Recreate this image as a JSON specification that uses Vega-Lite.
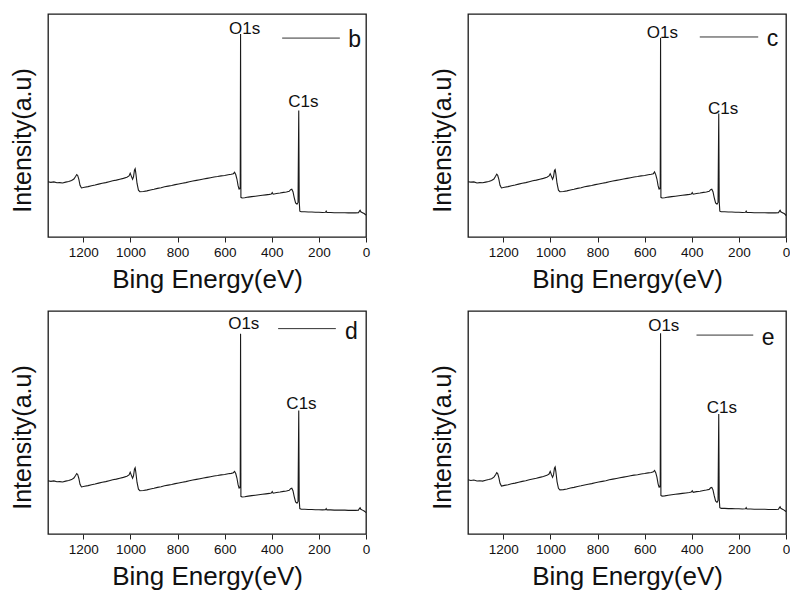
{
"$schema":"https://vega.github.io/schema/vega-lite/v6.json",
"background":"white",
"padding":{"left":9,"top":13,"right":0,"bottom":0},
"config":{"font":"Liberation Sans","view":{"stroke":"#1a1a1a","strokeWidth":1.3},
"axis":{"grid":false,"domain":false,"labelFont":"Liberation Sans","titleFont":"Liberation Sans","titleFontWeight":"normal","labelColor":"#111","titleColor":"#111","tickColor":"#222"}},
"datasets":{
"b":[{"e":1350,"v":24.8},{"e":1338,"v":24.5},{"e":1325,"v":24.7},{"e":1312,"v":24.3},{"e":1300,"v":24.4},{"e":1288,"v":24.2},{"e":1275,"v":24.6},{"e":1262,"v":24.9},{"e":1250,"v":25.3},{"e":1240,"v":26.0},{"e":1233,"v":27.1},{"e":1228,"v":28.0},{"e":1224,"v":27.6},{"e":1219,"v":25.8},{"e":1214,"v":23.2},{"e":1208,"v":22.0},{"e":1195,"v":22.3},{"e":1180,"v":22.6},{"e":1165,"v":23.0},{"e":1150,"v":23.3},{"e":1135,"v":23.7},{"e":1120,"v":24.1},{"e":1105,"v":24.4},{"e":1090,"v":24.8},{"e":1075,"v":25.2},{"e":1060,"v":25.5},{"e":1045,"v":25.9},{"e":1030,"v":26.3},{"e":1015,"v":26.8},{"e":1006,"v":27.4},{"e":1001,"v":28.6},{"e":996,"v":27.2},{"e":991,"v":25.9},{"e":987,"v":27.0},{"e":983,"v":30.0},{"e":980,"v":30.6},{"e":977,"v":28.5},{"e":972,"v":24.0},{"e":966,"v":21.0},{"e":960,"v":20.3},{"e":945,"v":20.4},{"e":930,"v":20.7},{"e":915,"v":21.1},{"e":900,"v":21.4},{"e":885,"v":21.8},{"e":870,"v":22.1},{"e":855,"v":22.5},{"e":840,"v":22.8},{"e":825,"v":23.1},{"e":810,"v":23.5},{"e":795,"v":23.8},{"e":780,"v":24.1},{"e":765,"v":24.4},{"e":750,"v":24.8},{"e":735,"v":25.1},{"e":720,"v":25.4},{"e":705,"v":25.7},{"e":690,"v":26.0},{"e":675,"v":26.3},{"e":660,"v":26.6},{"e":645,"v":26.9},{"e":630,"v":27.1},{"e":615,"v":27.4},{"e":600,"v":27.6},{"e":585,"v":27.9},{"e":572,"v":28.1},{"e":563,"v":28.4},{"e":558,"v":29.0},{"e":553,"v":28.0},{"e":548,"v":26.0},{"e":543,"v":23.0},{"e":539,"v":21.5},{"e":536,"v":21.6},{"e":534,"v":22.5},{"e":532.5,"v":91.0},{"e":531,"v":17.8},{"e":526,"v":17.5},{"e":515,"v":17.6},{"e":500,"v":17.9},{"e":485,"v":18.1},{"e":470,"v":18.3},{"e":455,"v":18.5},{"e":440,"v":18.7},{"e":425,"v":18.9},{"e":410,"v":19.1},{"e":402,"v":19.3},{"e":398,"v":19.9},{"e":394,"v":19.2},{"e":380,"v":19.5},{"e":365,"v":19.7},{"e":350,"v":20.0},{"e":338,"v":20.2},{"e":326,"v":20.5},{"e":320,"v":21.2},{"e":315,"v":21.4},{"e":310,"v":20.3},{"e":305,"v":17.8},{"e":299,"v":15.3},{"e":293,"v":14.7},{"e":288.5,"v":15.5},{"e":285.5,"v":56.7},{"e":283.5,"v":16.0},{"e":281,"v":11.6},{"e":275,"v":11.3},{"e":260,"v":11.3},{"e":245,"v":11.2},{"e":230,"v":11.2},{"e":215,"v":11.1},{"e":200,"v":11.1},{"e":185,"v":11.0},{"e":172,"v":11.1},{"e":169,"v":11.6},{"e":166,"v":11.0},{"e":150,"v":11.0},{"e":135,"v":10.9},{"e":120,"v":10.9},{"e":105,"v":10.9},{"e":90,"v":10.9},{"e":75,"v":10.8},{"e":60,"v":10.8},{"e":45,"v":10.8},{"e":32,"v":10.9},{"e":28,"v":11.6},{"e":25,"v":12.0},{"e":22,"v":11.3},{"e":15,"v":10.9},{"e":8,"v":10.5},{"e":3,"v":10.1},{"e":0,"v":9.8}],
"c":[{"e":1350,"v":24.8},{"e":1338,"v":24.6},{"e":1325,"v":24.7},{"e":1312,"v":24.2},{"e":1300,"v":24.4},{"e":1288,"v":24.3},{"e":1275,"v":24.6},{"e":1262,"v":24.9},{"e":1250,"v":25.3},{"e":1240,"v":26.0},{"e":1233,"v":27.2},{"e":1228,"v":28.2},{"e":1224,"v":27.7},{"e":1219,"v":25.8},{"e":1214,"v":23.2},{"e":1208,"v":22.0},{"e":1195,"v":22.3},{"e":1180,"v":22.6},{"e":1165,"v":23.0},{"e":1150,"v":23.3},{"e":1135,"v":23.7},{"e":1120,"v":24.1},{"e":1105,"v":24.4},{"e":1090,"v":24.8},{"e":1075,"v":25.2},{"e":1060,"v":25.5},{"e":1045,"v":25.9},{"e":1030,"v":26.3},{"e":1015,"v":26.8},{"e":1006,"v":27.4},{"e":1001,"v":28.4},{"e":996,"v":27.2},{"e":991,"v":25.9},{"e":987,"v":27.0},{"e":983,"v":29.8},{"e":980,"v":30.2},{"e":977,"v":28.3},{"e":972,"v":24.0},{"e":966,"v":21.0},{"e":960,"v":20.3},{"e":945,"v":20.4},{"e":930,"v":20.7},{"e":915,"v":21.1},{"e":900,"v":21.4},{"e":885,"v":21.8},{"e":870,"v":22.1},{"e":855,"v":22.5},{"e":840,"v":22.8},{"e":825,"v":23.1},{"e":810,"v":23.5},{"e":795,"v":23.8},{"e":780,"v":24.1},{"e":765,"v":24.4},{"e":750,"v":24.8},{"e":735,"v":25.1},{"e":720,"v":25.4},{"e":705,"v":25.7},{"e":690,"v":26.0},{"e":675,"v":26.3},{"e":660,"v":26.6},{"e":645,"v":26.9},{"e":630,"v":27.1},{"e":615,"v":27.4},{"e":600,"v":27.6},{"e":585,"v":27.9},{"e":572,"v":28.1},{"e":563,"v":28.4},{"e":558,"v":29.2},{"e":553,"v":28.0},{"e":548,"v":26.0},{"e":543,"v":23.0},{"e":539,"v":21.5},{"e":536,"v":21.6},{"e":534,"v":22.5},{"e":532.5,"v":89.4},{"e":531,"v":17.8},{"e":526,"v":17.5},{"e":515,"v":17.6},{"e":500,"v":17.9},{"e":485,"v":18.1},{"e":470,"v":18.3},{"e":455,"v":18.5},{"e":440,"v":18.7},{"e":425,"v":18.9},{"e":410,"v":19.1},{"e":402,"v":19.3},{"e":398,"v":19.9},{"e":394,"v":19.2},{"e":380,"v":19.5},{"e":365,"v":19.7},{"e":350,"v":20.0},{"e":338,"v":20.2},{"e":326,"v":20.5},{"e":320,"v":21.2},{"e":315,"v":21.4},{"e":310,"v":20.3},{"e":305,"v":17.8},{"e":299,"v":15.3},{"e":293,"v":14.7},{"e":288.5,"v":15.5},{"e":285.5,"v":55.4},{"e":283.5,"v":16.0},{"e":281,"v":11.6},{"e":275,"v":11.3},{"e":260,"v":11.3},{"e":245,"v":11.2},{"e":230,"v":11.2},{"e":215,"v":11.1},{"e":200,"v":11.1},{"e":185,"v":11.0},{"e":172,"v":11.1},{"e":169,"v":11.6},{"e":166,"v":11.0},{"e":150,"v":11.0},{"e":135,"v":10.9},{"e":120,"v":10.9},{"e":105,"v":10.9},{"e":90,"v":10.9},{"e":75,"v":10.8},{"e":60,"v":10.8},{"e":45,"v":10.8},{"e":32,"v":10.9},{"e":28,"v":11.6},{"e":25,"v":12.0},{"e":22,"v":11.3},{"e":15,"v":10.9},{"e":8,"v":10.5},{"e":3,"v":10.1},{"e":0,"v":9.6}],
"d":[{"e":1350,"v":23.9},{"e":1338,"v":23.6},{"e":1325,"v":23.8},{"e":1312,"v":23.4},{"e":1300,"v":23.5},{"e":1288,"v":23.3},{"e":1275,"v":23.7},{"e":1262,"v":24.0},{"e":1250,"v":24.4},{"e":1240,"v":25.1},{"e":1233,"v":26.2},{"e":1228,"v":27.1},{"e":1224,"v":26.7},{"e":1219,"v":24.9},{"e":1214,"v":22.3},{"e":1208,"v":21.1},{"e":1195,"v":21.4},{"e":1180,"v":21.7},{"e":1165,"v":22.1},{"e":1150,"v":22.4},{"e":1135,"v":22.8},{"e":1120,"v":23.2},{"e":1105,"v":23.5},{"e":1090,"v":23.9},{"e":1075,"v":24.3},{"e":1060,"v":24.6},{"e":1045,"v":25.0},{"e":1030,"v":25.4},{"e":1015,"v":25.9},{"e":1006,"v":26.5},{"e":1001,"v":27.7},{"e":996,"v":26.3},{"e":991,"v":25.0},{"e":987,"v":26.1},{"e":983,"v":29.1},{"e":980,"v":29.7},{"e":977,"v":27.6},{"e":972,"v":23.1},{"e":966,"v":20.1},{"e":960,"v":19.4},{"e":945,"v":19.5},{"e":930,"v":19.8},{"e":915,"v":20.2},{"e":900,"v":20.5},{"e":885,"v":20.9},{"e":870,"v":21.2},{"e":855,"v":21.6},{"e":840,"v":21.9},{"e":825,"v":22.2},{"e":810,"v":22.6},{"e":795,"v":22.9},{"e":780,"v":23.2},{"e":765,"v":23.5},{"e":750,"v":23.9},{"e":735,"v":24.2},{"e":720,"v":24.5},{"e":705,"v":24.8},{"e":690,"v":25.1},{"e":675,"v":25.4},{"e":660,"v":25.7},{"e":645,"v":26.0},{"e":630,"v":26.2},{"e":615,"v":26.5},{"e":600,"v":26.7},{"e":585,"v":27.0},{"e":572,"v":27.2},{"e":563,"v":27.5},{"e":558,"v":28.1},{"e":553,"v":27.1},{"e":548,"v":25.1},{"e":543,"v":22.1},{"e":539,"v":20.6},{"e":536,"v":20.7},{"e":534,"v":21.6},{"e":532.5,"v":89.8},{"e":531,"v":16.9},{"e":526,"v":16.6},{"e":515,"v":16.7},{"e":500,"v":17.0},{"e":485,"v":17.2},{"e":470,"v":17.4},{"e":455,"v":17.6},{"e":440,"v":17.8},{"e":425,"v":18.0},{"e":410,"v":18.2},{"e":402,"v":18.4},{"e":398,"v":19.0},{"e":394,"v":18.3},{"e":380,"v":18.6},{"e":365,"v":18.8},{"e":350,"v":19.1},{"e":338,"v":19.3},{"e":326,"v":19.6},{"e":320,"v":20.3},{"e":315,"v":20.5},{"e":310,"v":19.4},{"e":305,"v":16.9},{"e":299,"v":14.4},{"e":293,"v":13.8},{"e":288.5,"v":14.6},{"e":285.5,"v":55.4},{"e":283.5,"v":15.0},{"e":281,"v":11.4},{"e":275,"v":11.1},{"e":260,"v":11.1},{"e":245,"v":11.0},{"e":230,"v":11.0},{"e":215,"v":10.9},{"e":200,"v":10.9},{"e":185,"v":10.8},{"e":172,"v":10.9},{"e":169,"v":11.4},{"e":166,"v":10.8},{"e":150,"v":10.8},{"e":135,"v":10.7},{"e":120,"v":10.7},{"e":105,"v":10.7},{"e":90,"v":10.7},{"e":75,"v":10.6},{"e":60,"v":10.6},{"e":45,"v":10.6},{"e":32,"v":10.7},{"e":28,"v":11.4},{"e":25,"v":11.8},{"e":22,"v":11.1},{"e":15,"v":10.7},{"e":8,"v":10.3},{"e":3,"v":9.9},{"e":0,"v":9.6}],
"e":[{"e":1350,"v":24.3},{"e":1338,"v":24.0},{"e":1325,"v":24.2},{"e":1312,"v":23.8},{"e":1300,"v":23.9},{"e":1288,"v":23.7},{"e":1275,"v":24.1},{"e":1262,"v":24.4},{"e":1250,"v":24.8},{"e":1240,"v":25.5},{"e":1233,"v":26.6},{"e":1228,"v":27.5},{"e":1224,"v":27.1},{"e":1219,"v":25.3},{"e":1214,"v":22.7},{"e":1208,"v":21.5},{"e":1195,"v":21.8},{"e":1180,"v":22.1},{"e":1165,"v":22.5},{"e":1150,"v":22.8},{"e":1135,"v":23.2},{"e":1120,"v":23.6},{"e":1105,"v":23.9},{"e":1090,"v":24.3},{"e":1075,"v":24.7},{"e":1060,"v":25.0},{"e":1045,"v":25.4},{"e":1030,"v":25.8},{"e":1015,"v":26.3},{"e":1006,"v":26.9},{"e":1001,"v":28.1},{"e":996,"v":26.7},{"e":991,"v":25.4},{"e":987,"v":26.5},{"e":983,"v":29.5},{"e":980,"v":30.1},{"e":977,"v":28.0},{"e":972,"v":23.5},{"e":966,"v":20.5},{"e":960,"v":19.8},{"e":945,"v":19.9},{"e":930,"v":20.2},{"e":915,"v":20.6},{"e":900,"v":20.9},{"e":885,"v":21.3},{"e":870,"v":21.6},{"e":855,"v":22.0},{"e":840,"v":22.3},{"e":825,"v":22.6},{"e":810,"v":23.0},{"e":795,"v":23.3},{"e":780,"v":23.6},{"e":765,"v":23.9},{"e":750,"v":24.3},{"e":735,"v":24.6},{"e":720,"v":24.9},{"e":705,"v":25.2},{"e":690,"v":25.5},{"e":675,"v":25.8},{"e":660,"v":26.1},{"e":645,"v":26.4},{"e":630,"v":26.6},{"e":615,"v":26.9},{"e":600,"v":27.1},{"e":585,"v":27.4},{"e":572,"v":27.6},{"e":563,"v":27.9},{"e":558,"v":28.5},{"e":553,"v":27.5},{"e":548,"v":25.5},{"e":543,"v":22.5},{"e":539,"v":21.0},{"e":536,"v":21.1},{"e":534,"v":22.0},{"e":532.5,"v":90.0},{"e":531,"v":17.3},{"e":526,"v":17.0},{"e":515,"v":17.1},{"e":500,"v":17.4},{"e":485,"v":17.6},{"e":470,"v":17.8},{"e":455,"v":18.0},{"e":440,"v":18.2},{"e":425,"v":18.4},{"e":410,"v":18.6},{"e":402,"v":18.8},{"e":398,"v":19.4},{"e":394,"v":18.7},{"e":380,"v":19.0},{"e":365,"v":19.2},{"e":350,"v":19.5},{"e":338,"v":19.7},{"e":326,"v":20.0},{"e":320,"v":20.7},{"e":315,"v":20.9},{"e":310,"v":19.8},{"e":305,"v":17.3},{"e":299,"v":14.8},{"e":293,"v":14.2},{"e":288.5,"v":15.0},{"e":285.5,"v":53.8},{"e":283.5,"v":16.0},{"e":281,"v":11.8},{"e":275,"v":11.5},{"e":260,"v":11.5},{"e":245,"v":11.4},{"e":230,"v":11.4},{"e":215,"v":11.3},{"e":200,"v":11.3},{"e":185,"v":11.2},{"e":172,"v":11.3},{"e":169,"v":11.8},{"e":166,"v":11.2},{"e":150,"v":11.2},{"e":135,"v":11.1},{"e":120,"v":11.1},{"e":105,"v":11.1},{"e":90,"v":11.1},{"e":75,"v":11.0},{"e":60,"v":11.0},{"e":45,"v":11.0},{"e":32,"v":11.1},{"e":28,"v":11.8},{"e":25,"v":12.2},{"e":22,"v":11.5},{"e":15,"v":11.1},{"e":8,"v":10.7},{"e":3,"v":10.3},{"e":0,"v":10.0}]
},
"columns":2,
"spacing":{"row":16,"column":58},
"concat":[
{"width":318,"height":223,"layer":[
 {"data":{"name":"b"},"mark":{"type":"line","color":"#1a1a1a","strokeWidth":1.1},
  "encoding":{"x":{"field":"e","type":"quantitative","scale":{"domain":[0,1350],"reverse":true,"nice":false,"zero":false},
   "axis":{"title":"Bing Energy(eV)","titleFontSize":26,"titlePadding":8,"labelFontSize":13.5,"labelPadding":3,"format":"d","labelFlush":false,"labelOverlap":false,"values":[0,100,200,300,400,500,600,700,800,900,1000,1100,1200,1300],"labelExpr":"datum.value % 200 === 0 ? datum.label : ''","tickSize":{"condition":{"test":"datum.value % 200 === 0","value":5},"value":3}}},
   "y":{"field":"v","type":"quantitative","scale":{"domain":[0,100],"nice":false},"axis":{"title":"Intensity(a.u)","titleFontSize":25,"titlePadding":13,"labels":false,"ticks":false,"titleY":126}}}},
 {"data":{"values":[{"e":515,"v":91.1,"t":"O1s"},{"e":266,"v":58.5,"t":"C1s"}]},"mark":{"type":"text","fontSize":17,"baseline":"alphabetic","align":"center","color":"#111"},
  "encoding":{"x":{"field":"e","type":"quantitative"},"y":{"field":"v","type":"quantitative"},"text":{"field":"t"}}},
 {"data":{"values":[{"e":356,"e2":111,"v":89.2}]},"mark":{"type":"rule","color":"#333","strokeWidth":1},
  "encoding":{"x":{"field":"e","type":"quantitative"},"x2":{"field":"e2"},"y":{"field":"v","type":"quantitative"}}},
 {"data":{"values":[{"e":75,"v":85.3,"t":"b"}]},"mark":{"type":"text","fontSize":23,"baseline":"alphabetic","align":"left","color":"#111"},
  "encoding":{"x":{"field":"e","type":"quantitative"},"y":{"field":"v","type":"quantitative"},"text":{"field":"t"}}}
]},
{"width":318,"height":223,"layer":[
 {"data":{"name":"c"},"mark":{"type":"line","color":"#1a1a1a","strokeWidth":1.1},
  "encoding":{"x":{"field":"e","type":"quantitative","scale":{"domain":[0,1350],"reverse":true,"nice":false,"zero":false},
   "axis":{"title":"Bing Energy(eV)","titleFontSize":26,"titlePadding":8,"labelFontSize":13.5,"labelPadding":3,"format":"d","labelFlush":false,"labelOverlap":false,"values":[0,100,200,300,400,500,600,700,800,900,1000,1100,1200,1300],"labelExpr":"datum.value % 200 === 0 ? datum.label : ''","tickSize":{"condition":{"test":"datum.value % 200 === 0","value":5},"value":3}}},
   "y":{"field":"v","type":"quantitative","scale":{"domain":[0,100],"nice":false},"axis":{"title":"Intensity(a.u)","titleFontSize":25,"titlePadding":13,"labels":false,"ticks":false,"titleY":126}}}},
 {"data":{"values":[{"e":525,"v":89.4,"t":"O1s"},{"e":267,"v":55.2,"t":"C1s"}]},"mark":{"type":"text","fontSize":17,"baseline":"alphabetic","align":"center","color":"#111"},
  "encoding":{"x":{"field":"e","type":"quantitative"},"y":{"field":"v","type":"quantitative"},"text":{"field":"t"}}},
 {"data":{"values":[{"e":366,"e2":118,"v":89.7}]},"mark":{"type":"rule","color":"#333","strokeWidth":1},
  "encoding":{"x":{"field":"e","type":"quantitative"},"x2":{"field":"e2"},"y":{"field":"v","type":"quantitative"}}},
 {"data":{"values":[{"e":82,"v":85.7,"t":"c"}]},"mark":{"type":"text","fontSize":23,"baseline":"alphabetic","align":"left","color":"#111"},
  "encoding":{"x":{"field":"e","type":"quantitative"},"y":{"field":"v","type":"quantitative"},"text":{"field":"t"}}}
]},
{"width":318,"height":223,"layer":[
 {"data":{"name":"d"},"mark":{"type":"line","color":"#1a1a1a","strokeWidth":1.1},
  "encoding":{"x":{"field":"e","type":"quantitative","scale":{"domain":[0,1350],"reverse":true,"nice":false,"zero":false},
   "axis":{"title":"Bing Energy(eV)","titleFontSize":26,"titlePadding":8,"labelFontSize":13.5,"labelPadding":3,"format":"d","labelFlush":false,"labelOverlap":false,"values":[0,100,200,300,400,500,600,700,800,900,1000,1100,1200,1300],"labelExpr":"datum.value % 200 === 0 ? datum.label : ''","tickSize":{"condition":{"test":"datum.value % 200 === 0","value":5},"value":3}}},
   "y":{"field":"v","type":"quantitative","scale":{"domain":[0,100],"nice":false},"axis":{"title":"Intensity(a.u)","titleFontSize":25,"titlePadding":13,"labels":false,"ticks":false,"titleY":126}}}},
 {"data":{"values":[{"e":519,"v":92.0,"t":"O1s"},{"e":274,"v":55.9,"t":"C1s"}]},"mark":{"type":"text","fontSize":17,"baseline":"alphabetic","align":"center","color":"#111"},
  "encoding":{"x":{"field":"e","type":"quantitative"},"y":{"field":"v","type":"quantitative"},"text":{"field":"t"}}},
 {"data":{"values":[{"e":373,"e2":128,"v":92.1}]},"mark":{"type":"rule","color":"#333","strokeWidth":1},
  "encoding":{"x":{"field":"e","type":"quantitative"},"x2":{"field":"e2"},"y":{"field":"v","type":"quantitative"}}},
 {"data":{"values":[{"e":89,"v":87.6,"t":"d"}]},"mark":{"type":"text","fontSize":23,"baseline":"alphabetic","align":"left","color":"#111"},
  "encoding":{"x":{"field":"e","type":"quantitative"},"y":{"field":"v","type":"quantitative"},"text":{"field":"t"}}}
]},
{"width":318,"height":223,"layer":[
 {"data":{"name":"e"},"mark":{"type":"line","color":"#1a1a1a","strokeWidth":1.1},
  "encoding":{"x":{"field":"e","type":"quantitative","scale":{"domain":[0,1350],"reverse":true,"nice":false,"zero":false},
   "axis":{"title":"Bing Energy(eV)","titleFontSize":26,"titlePadding":8,"labelFontSize":13.5,"labelPadding":3,"format":"d","labelFlush":false,"labelOverlap":false,"values":[0,100,200,300,400,500,600,700,800,900,1000,1100,1200,1300],"labelExpr":"datum.value % 200 === 0 ? datum.label : ''","tickSize":{"condition":{"test":"datum.value % 200 === 0","value":5},"value":3}}},
   "y":{"field":"v","type":"quantitative","scale":{"domain":[0,100],"nice":false},"axis":{"title":"Intensity(a.u)","titleFontSize":25,"titlePadding":13,"labels":false,"ticks":false,"titleY":126}}}},
 {"data":{"values":[{"e":519,"v":91.0,"t":"O1s"},{"e":272,"v":54.1,"t":"C1s"}]},"mark":{"type":"text","fontSize":17,"baseline":"alphabetic","align":"center","color":"#111"},
  "encoding":{"x":{"field":"e","type":"quantitative"},"y":{"field":"v","type":"quantitative"},"text":{"field":"t"}}},
 {"data":{"values":[{"e":380,"e2":139,"v":89.2}]},"mark":{"type":"rule","color":"#333","strokeWidth":1},
  "encoding":{"x":{"field":"e","type":"quantitative"},"x2":{"field":"e2"},"y":{"field":"v","type":"quantitative"}}},
 {"data":{"values":[{"e":103,"v":84.8,"t":"e"}]},"mark":{"type":"text","fontSize":23,"baseline":"alphabetic","align":"left","color":"#111"},
  "encoding":{"x":{"field":"e","type":"quantitative"},"y":{"field":"v","type":"quantitative"},"text":{"field":"t"}}}
]}
]
}
